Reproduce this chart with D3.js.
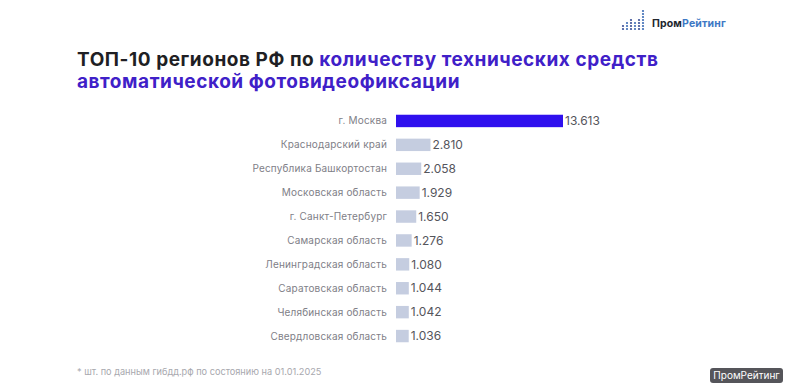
<!DOCTYPE html>
<html>
<head>
<meta charset="utf-8">
<script src="https://cdn.jsdelivr.net/npm/d3@7"></script>
<style>
  html, body { margin: 0; padding: 0; background: #fff; }
  text { font-family: Inter, "Open Sans", sans-serif; }
</style>
</head>
<body>
<svg id="chart"></svg>
<script>
const regions = [
  'г. Москва',
  'Краснодарский край',
  'Республика Башкортостан',
  'Московская область',
  'г. Санкт-Петербург',
  'Самарская область',
  'Ленинградская область',
  'Саратовская область',
  'Челябинская область',
  'Свердловская область',
];
const counts = [13613, 2810, 2058, 1929, 1650, 1276, 1080, 1044, 1042, 1036];
const logoColumns = [2, 3, 4, 3, 4, 7];

const svgWidth = 800;
const svgHeight = 390;

const svg = d3.select('#chart')
  .attr('width', svgWidth)
  .attr('height', svgHeight)
  .style('display', 'block');

const formatCount = d => d3.format(',')(d).replace(',', '.');

const x = d3.scaleLinear()
  .domain([0, 13613])
  .range([396, 563]);

const y = d3.scaleBand()
  .domain(regions)
  .range([109, 348])
  .paddingInner(0.48)
  .paddingOuter(0.24);

// title
const title = svg.append('text')
  .attr('x', 77)
  .attr('y', 66)
  .attr('font-size', 19)
  .attr('font-weight', 700)
  .attr('letter-spacing', 0.55)
  .attr('fill', '#1f1f24');
title.append('tspan').text('ТОП-10 регионов РФ по ');
title.append('tspan').attr('fill', '#3f20c8').text('количеству технических средств');

svg.append('text')
  .attr('x', 77)
  .attr('y', 88)
  .attr('font-size', 19)
  .attr('font-weight', 700)
  .attr('letter-spacing', 0.55)
  .attr('fill', '#3f20c8')
  .text('автоматической фотовидеофиксации');

// bars
svg.selectAll('rect.bar')
  .data(counts)
  .join('rect')
  .attr('class', 'bar')
  .attr('x', x(0))
  .attr('y', (d, i) => y(regions[i]))
  .attr('width', d => x(d) - x(0))
  .attr('height', y.bandwidth())
  .attr('fill', (d, i) => (i === 0 ? '#2f10ee' : '#c5cde0'));

// region labels
svg.selectAll('text.region')
  .data(regions)
  .join('text')
  .attr('class', 'region')
  .attr('x', 387)
  .attr('y', d => y(d) + y.bandwidth() / 2)
  .attr('dy', '0.35em')
  .attr('text-anchor', 'end')
  .attr('font-size', 10)
  .attr('letter-spacing', 0.17)
  .attr('fill', '#808087')
  .text(d => d);

// value labels
svg.selectAll('text.value')
  .data(counts)
  .join('text')
  .attr('class', 'value')
  .attr('x', d => x(d) + 2)
  .attr('y', (d, i) => y(regions[i]) + y.bandwidth() / 2)
  .attr('dy', '0.35em')
  .attr('font-size', 12)
  .attr('fill', '#55555c')
  .text(formatCount);

// footnote
svg.append('text')
  .attr('x', 77)
  .attr('y', 375)
  .attr('font-size', 9.2)
  .attr('fill', '#a8a8ae')
  .text('* шт. по данным гибдд.рф по состоянию на 01.01.2025');

// logo
const logo = svg.append('g').attr('transform', 'translate(623, 29)');
logoColumns.forEach((n, col) => {
  logo.selectAll(null)
    .data(d3.range(n))
    .join('circle')
    .attr('cx', col * 4)
    .attr('cy', d => -d * 3)
    .attr('r', 1.1)
    .attr('fill', col % 2 ? '#3d6cb5' : '#3a4f96');
});
const logoText = svg.append('text')
  .attr('x', 652)
  .attr('y', 27)
  .attr('font-size', 10.5)
  .attr('font-weight', 700)
  .attr('letter-spacing', 0.15)
  .attr('fill', '#22262e');
logoText.append('tspan').text('Пром');
logoText.append('tspan').attr('fill', '#3d78c5').text('Рейтинг');

// watermark
svg.append('rect')
  .attr('x', 710)
  .attr('y', 368)
  .attr('width', 73)
  .attr('height', 15)
  .attr('rx', 3)
  .attr('fill', '#55555a');
svg.append('text')
  .attr('x', 746.5)
  .attr('y', 379)
  .attr('text-anchor', 'middle')
  .attr('font-size', 10)
  .attr('fill', '#fff')
  .text('ПромРейтинг');
</script>
</body>
</html>
